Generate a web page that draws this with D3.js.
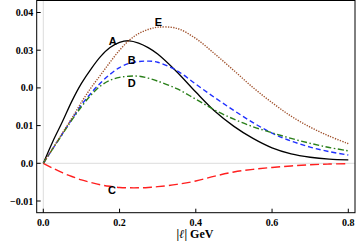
<!DOCTYPE html>
<html>
<head>
<meta charset="utf-8">
<script src="https://cdn.jsdelivr.net/npm/d3@7"></script>
<style>
  body { margin: 0; background: #fff; }
  svg { display: block; }
</style>
</head>
<body>
<div id="chart"></div>
<script>
const xs = [0, 0.025, 0.05, 0.075, 0.1, 0.125, 0.15, 0.175, 0.2, 0.225, 0.25, 0.275, 0.3, 0.35, 0.4, 0.45, 0.5, 0.55, 0.6, 0.65, 0.7, 0.75, 0.8];
const seriesA = [0, 0.0058, 0.0110, 0.0165, 0.0212, 0.0250, 0.0283, 0.0307, 0.0321, 0.0325, 0.0319, 0.0307, 0.0290, 0.0243, 0.0189, 0.0138, 0.0098, 0.0066, 0.0041, 0.0025, 0.0016, 0.0011, 0.0009];
const seriesB = [0, 0.0039, 0.0078, 0.0117, 0.0155, 0.0186, 0.0213, 0.0236, 0.0254, 0.0265, 0.0270, 0.0271, 0.0268, 0.0246, 0.0210, 0.0174, 0.0140, 0.0108, 0.0080, 0.0059, 0.0043, 0.0031, 0.0022];
const seriesC = [0, -0.0013, -0.0025, -0.0035, -0.0044, -0.0051, -0.0057, -0.0061, -0.0064, -0.0065, -0.0065, -0.0064, -0.0062, -0.0056, -0.0047, -0.0034, -0.0023, -0.0016, -0.0011, -0.0007, -0.0004, -0.0002, -0.0001];
const seriesD = [0, 0.0039, 0.0077, 0.0115, 0.0150, 0.0181, 0.0205, 0.0220, 0.0228, 0.0231, 0.0231, 0.0226, 0.0218, 0.0198, 0.0170, 0.0141, 0.0117, 0.0097, 0.0081, 0.0066, 0.0053, 0.0042, 0.0033];
const seriesE = [0, 0.0040, 0.0080, 0.0120, 0.0162, 0.0200, 0.0234, 0.0268, 0.0300, 0.0326, 0.0344, 0.0355, 0.0361, 0.0358, 0.0331, 0.0290, 0.0246, 0.0201, 0.0161, 0.0125, 0.0096, 0.0072, 0.0052];
const xTicks = [0, 0.2, 0.4, 0.6, 0.8];
const xTickLabels = ["0.0", "0.2", "0.4", "0.6", "0.8"];
const yTicks = [-0.01, 0, 0.01, 0.02, 0.03, 0.04];
const yTickLabels = ["\u22120.01", "0.0", "0.01", "0.0", "0.03", "0.04"];
// curve labels, in data coordinates
const labelNames = ["A", "B", "C", "D", "E"];
const labelX = [0.182, 0.232, 0.180, 0.232, 0.302];
const labelY = [0.0323, 0.0274, -0.0071, 0.0214, 0.0376];

(function () {
    const W = 357, H = 247;
    const fLeft = 36.7, fRight = 355, fTop = 0.5, fBottom = 212.7;

    const x = d3.scaleLinear().domain([0, 0.8]).range([43.3, 348.3]);
    const y = d3.scaleLinear().domain([-0.01, 0.04]).range([201, 12.5]);

    const svg = d3.select("#chart").append("svg")
        .attr("width", W)
        .attr("height", H);

    // zero grid lines
    svg.append("line")
        .attr("x1", fLeft).attr("x2", fRight)
        .attr("y1", y(0)).attr("y2", y(0))
        .attr("stroke", "#dcdcdc").attr("stroke-width", 1);
    svg.append("line")
        .attr("x1", x(0)).attr("x2", x(0))
        .attr("y1", fTop).attr("y2", fBottom)
        .attr("stroke", "#dcdcdc").attr("stroke-width", 1);

    const styles = [
        { data: seriesA, color: "#000000", dash: null, w: 1.3 },
        { data: seriesB, color: "#1f2fff", dash: "5,3", w: 1.4 },
        { data: seriesC, color: "#ff1f1f", dash: "9,4", w: 1.4 },
        { data: seriesD, color: "#2a7f1a", dash: "6,2.5,1.5,2.5", w: 1.4 },
        { data: seriesE, color: "#a0522d", dash: "1.3,1.3", w: 1.4 }
    ];

    const line = d3.line()
        .x(d => x(d[0]))
        .y(d => y(d[1]))
        .curve(d3.curveCatmullRom.alpha(0.5));

    styles.forEach(s => {
        svg.append("path")
            .datum(xs.map((v, i) => [v, s.data[i]]))
            .attr("fill", "none")
            .attr("stroke", s.color)
            .attr("stroke-width", s.w)
            .attr("stroke-dasharray", s.dash)
            .attr("d", line);
    });

    // frame
    svg.append("rect")
        .attr("x", fLeft).attr("y", fTop)
        .attr("width", fRight - fLeft).attr("height", fBottom - fTop)
        .attr("fill", "none").attr("stroke", "#000").attr("stroke-width", 1);

    // ticks (inward)
    xTicks.forEach((t, i) => {
        svg.append("line")
            .attr("x1", x(t)).attr("x2", x(t))
            .attr("y1", fBottom).attr("y2", fBottom - 4)
            .attr("stroke", "#000");
        svg.append("text")
            .attr("x", x(t)).attr("y", fBottom + 13)
            .attr("text-anchor", "middle")
            .style("font-family", "'Liberation Serif', 'Times New Roman', serif")
            .style("font-weight", "bold")
            .style("font-size", "10px")
            .text(xTickLabels[i]);
    });
    yTicks.forEach((t, i) => {
        svg.append("line")
            .attr("x1", fLeft).attr("x2", fLeft + 4)
            .attr("y1", y(t)).attr("y2", y(t))
            .attr("stroke", "#000");
        svg.append("text")
            .attr("x", fLeft - 3.5).attr("y", y(t) + 3.5)
            .attr("text-anchor", "end")
            .style("font-family", "'Liberation Serif', 'Times New Roman', serif")
            .style("font-weight", "bold")
            .style("font-size", "10px")
            .text(yTickLabels[i]);
    });

    // axis label
    const xl = svg.append("text")
        .attr("x", 195).attr("y", 238)
        .attr("text-anchor", "middle")
        .style("font-family", "'Liberation Serif', 'Times New Roman', serif")
        .style("font-weight", "bold")
        .style("font-size", "12px");
    xl.append("tspan").text("|");
    xl.append("tspan").style("font-style", "italic").text("\u2113");
    xl.append("tspan").text("| GeV");

    // curve labels
    labelNames.forEach((n, i) => {
        svg.append("text")
            .attr("x", x(labelX[i])).attr("y", y(labelY[i]))
            .attr("dy", "0.36em")
            .attr("text-anchor", "middle")
            .style("font-family", "'Liberation Sans', Arial, sans-serif")
            .style("font-weight", "bold")
            .style("font-size", "11px")
            .text(n);
    });
})();
</script>
</body>
</html>
